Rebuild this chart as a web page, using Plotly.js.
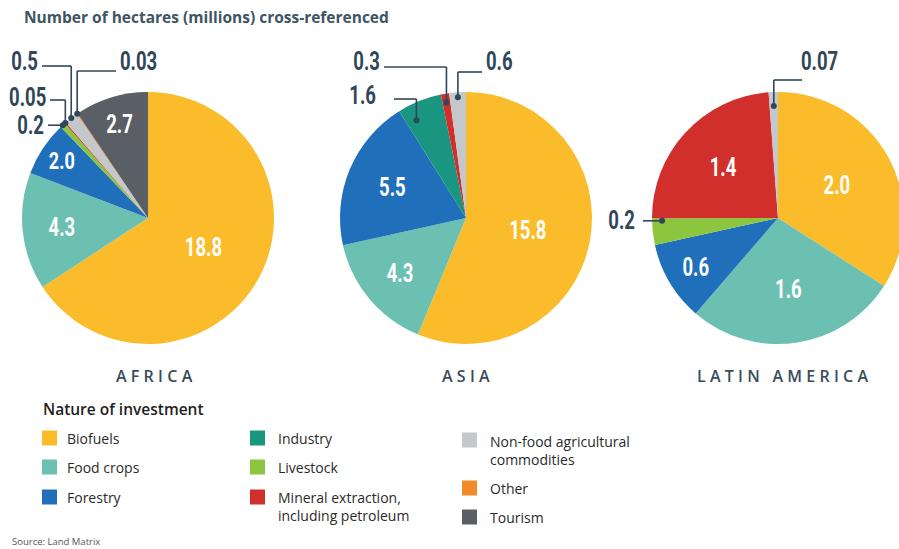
<!DOCTYPE html>
<html><head><meta charset="utf-8">
<script src="https://cdn.plot.ly/plotly-3.0.1.min.js"></script>
<style>html,body{margin:0;padding:0;overflow:hidden;background:#fff;width:899px;height:549px}#chart{width:910px;height:549px}</style>
</head><body><div id="chart"></div>
<script>
// ---------- DATA ----------
const categories = ['Biofuels','Food crops','Forestry','Industry','Livestock',
  'Mineral extraction, including petroleum','Non-food agricultural commodities','Other','Tourism'];
const legendText = ['Biofuels','Food crops','Forestry','Industry','Livestock',
  'Mineral extraction,<br>including petroleum','Non-food agricultural<br>commodities','Other','Tourism'];
const categoryColors = ['#FBBC2C','#6CC0B2','#1F6FBA','#1A9580','#8CC63E','#D12F2C','#C5C8CA','#F28A28','#5A5F65'];
const regionNames = ['AFRICA','ASIA','LATIN AMERICA'];

const africaLabels = ['Biofuels','Food crops','Forestry','Livestock',
  'Mineral extraction, including petroleum','Non-food agricultural commodities','Other','Tourism'];
const africaValues = [18.8, 4.3, 2.0, 0.2, 0.05, 0.5, 0.03, 2.7];

const asiaLabels = ['Biofuels','Food crops','Forestry','Industry',
  'Mineral extraction, including petroleum','Non-food agricultural commodities'];
const asiaValues = [15.8, 4.3, 5.5, 1.6, 0.3, 0.6];

const latamLabels = ['Biofuels','Food crops','Forestry','Livestock',
  'Mineral extraction, including petroleum','Non-food agricultural commodities'];
const latamValues = [2.0, 1.6, 0.6, 0.2, 1.4, 0.07];

// ---------- LAYOUT / STYLE ----------
const W = 910, H = 549;
const px = x => x / W, py = y => 1 - y / H;
const numFont = 'Roboto, "Liberation Sans", sans-serif';
const textFont = '"Open Sans","Noto Sans",sans-serif';
const slate = '#30465A';
const CONDENSE = 0.74;
const pieBoxes = [[22,92,274,344],[340,92,592,344],[652,92,904,344]]; // pixel boxes
const regionLabelX = [154, 466, 782];

// callout styling: which slices get an outside label and how the leader line runs
const callouts = [
  [ // Africa
    {cat:'Non-food agricultural commodities', side:'left', tx:40, ty:62, ly:66, lx0:42, rf:1.0, frac:0.5},
    {cat:'Mineral extraction, including petroleum', side:'left', tx:48, ty:97, ly:100, lx0:50, rf:1.0, frac:0.5},
    {cat:'Livestock', side:'left', tx:46, ty:123, straight:true, lx0:48, rf:1.0, frac:0.5},
    {cat:'Other', side:'right', tx:118, ty:62, ly:71, lx0:116, rf:1.0, frac:0.5}
  ],
  [ // Asia
    {cat:'Mineral extraction, including petroleum', side:'left', tx:382, ty:61, ly:67, lx0:384, rf:0.93, frac:0.5},
    {cat:'Non-food agricultural commodities', side:'right', tx:484, ty:61, ly:72, lx0:482, rf:0.96, frac:0.5},
    {cat:'Industry', side:'left', tx:378, ty:95, ly:99, lx0:394, rf:0.87, frac:0.25}
  ],
  [ // Latin America
    {cat:'Non-food agricultural commodities', side:'right', tx:799, ty:62, ly:80, lx0:802, rf:0.89, frac:0.5},
    {cat:'Livestock', side:'left', tx:637, ty:221, straight:true, lx0:643, rf:0.92, frac:0.9}
  ]
];

const fmt = v => v < 0.1 ? v.toFixed(2) : v.toFixed(1);
const regionsData = [[africaLabels, africaValues],[asiaLabels, asiaValues],[latamLabels, latamValues]];

const traces = [], shapes = [], annotations = [];
const numAnnots = []; // [annotation index, shift direction]

regionsData.forEach(([labels, values], i) => {
  const [x0, y0, x1, y1] = pieBoxes[i];
  const calloutCats = callouts[i].map(c => c.cat);
  traces.push({
    type:'pie', labels:labels, values:values, sort:false, direction:'clockwise', rotation:0,
    domain:{x:[px(x0), px(x1)], y:[py(y1), py(y0)]},
    marker:{colors: labels.map(l => categoryColors[categories.indexOf(l)]), line:{width:0}},
    text: values.map(fmt), textinfo:'text',
    textposition: labels.map(l => calloutCats.includes(l) ? 'none' : 'inside'),
    insidetextorientation:'horizontal',
    insidetextfont:{family:numFont, size:25, color:'#ffffff', weight:'bold'},
    hoverinfo:'label+value', showlegend:false
  });
  const total = values.reduce((a,b)=>a+b,0);
  const cx = (x0+x1)/2, cy = (y0+y1)/2, R = Math.min(x1-x0, y1-y0)/2;
  callouts[i].forEach(c => {
    const k = labels.indexOf(c.cat);
    const before = values.slice(0,k).reduce((a,b)=>a+b,0);
    const th = 2*Math.PI*(before + c.frac*values[k])/total;
    const dx = cx + c.rf*R*Math.sin(th), dy = cy - c.rf*R*Math.cos(th);
    const lineStyle = {color:slate, width:1.6};
    let ty = c.ty;
    if (c.straight) {
      ty = dy;
      shapes.push({type:'line', xref:'paper', yref:'paper', x0:px(c.lx0), y0:py(dy), x1:px(dx), y1:py(dy), line:lineStyle});
    } else {
      shapes.push({type:'line', xref:'paper', yref:'paper', x0:px(c.lx0), y0:py(c.ly), x1:px(dx), y1:py(c.ly), line:lineStyle});
      shapes.push({type:'line', xref:'paper', yref:'paper', x0:px(dx), y0:py(c.ly), x1:px(dx), y1:py(dy), line:lineStyle});
    }
    shapes.push({type:'circle', xref:'paper', yref:'paper', x0:px(dx-3), x1:px(dx+3), y0:py(dy+3), y1:py(dy-3),
      fillcolor:slate, line:{color:slate, width:0}});
    numAnnots.push([annotations.length, c.side==='left' ? 1 : -1]);
    annotations.push({xref:'paper', yref:'paper', x:px(c.tx), y:py(ty), xanchor: c.side==='left'?'right':'left', yanchor:'middle',
      text: fmt(values[k]), showarrow:false, font:{family:numFont, size:25, color:slate, weight:'bold'}});
  });
  annotations.push({xref:'paper', yref:'paper', x:px(regionLabelX[i]), y:py(376), xanchor:'center', yanchor:'middle',
    text: regionNames[i].split('').join('\u2009\u200A'), showarrow:false,
    font:{family:textFont, size:16, color:'#3A4C58', weight:600}});
});

// title
annotations.push({xref:'paper', yref:'paper', x:px(22), y:py(17), xanchor:'left', yanchor:'middle',
  text:'Number of hectares (millions) cross-referenced', showarrow:false,
  font:{family:textFont, size:15.5, color:'#3E5565', weight:'bold'}});
// legend title
annotations.push({xref:'paper', yref:'paper', x:px(41), y:py(409), xanchor:'left', yanchor:'middle',
  text:'Nature of investment', showarrow:false, font:{family:textFont, size:15.5, color:'#1E1E1E', weight:600}});
// legend
const legendColumns = [
  {sx:42, tx:65, items:[['Biofuels',438],['Food crops',467],['Forestry',497]]},
  {sx:250, tx:276, items:[['Industry',438],['Livestock',467],['Mineral extraction, including petroleum',497]]},
  {sx:462, tx:488, items:[['Non-food agricultural commodities',440],['Other',488],['Tourism',517]]}
];
legendColumns.forEach(col => col.items.forEach(([cat, yc]) => {
  const k = categories.indexOf(cat);
  shapes.push({type:'rect', xref:'paper', yref:'paper', x0:px(col.sx), x1:px(col.sx+15), y0:py(yc+7.5), y1:py(yc-7.5),
    fillcolor:categoryColors[k], line:{width:0}});
  const multi = legendText[k].includes('<br>');
  annotations.push({xref:'paper', yref:'paper', x:px(col.tx), y:py(multi ? yc-10.5 : yc), xanchor:'left',
    yanchor: multi ? 'top' : 'middle', align:'left',
    text: legendText[k], showarrow:false, font:{family:textFont, size:14, color:'#2A2A2A'}});
}));
annotations.push({xref:'paper', yref:'paper', x:px(10), y:py(541), xanchor:'left', yanchor:'middle',
  text:'Source: Land Matrix', showarrow:false, font:{family:textFont, size:9.5, color:'#555555'}});

function condenseText(el, dir) {
  const w = el.getComputedTextLength();
  if (!w) return;
  el.setAttribute('textLength', (w*CONDENSE).toFixed(2));
  el.setAttribute('lengthAdjust', 'spacingAndGlyphs');
  if (dir) {
    const x = parseFloat(el.getAttribute('x') || '0');
    el.setAttribute('x', (x + dir*(w - w*CONDENSE)/2).toFixed(2));
  }
}

Plotly.newPlot('chart', traces, {
  width:W, height:H, margin:{l:0,r:0,t:0,b:0}, paper_bgcolor:'#ffffff', plot_bgcolor:'#ffffff',
  showlegend:false, shapes:shapes, annotations:annotations
}, {displayModeBar:false}).then(gd => {
  gd.querySelectorAll('g.slicetext text').forEach(t => condenseText(t, 0));
  numAnnots.forEach(([idx, dir]) => {
    const t = gd.querySelector('g.annotation[data-index="' + idx + '"] text.annotation-text');
    if (t) condenseText(t, dir);
  });
});
</script>
</body></html>
